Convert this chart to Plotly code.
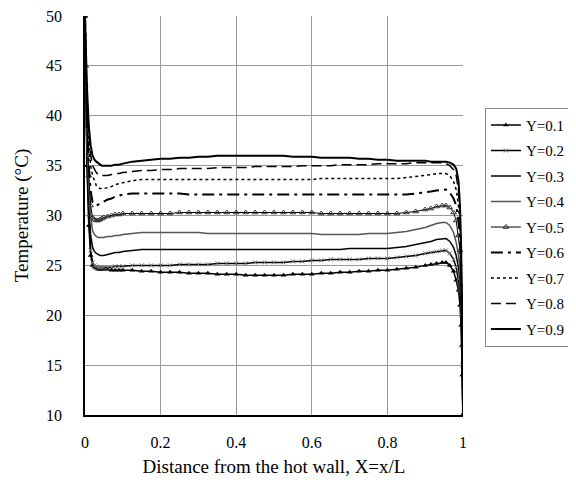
import plotly.graph_objects as go

# distance from the hot wall X=x/L
x_pos = [0, 0.002, 0.005, 0.01, 0.015, 0.02, 0.025, 0.03, 0.035, 0.04, 0.045,
         0.05, 0.06, 0.07, 0.08, 0.09,
         0.1, 0.125, 0.15, 0.175, 0.2, 0.225, 0.25, 0.275, 0.3, 0.325, 0.35,
         0.375, 0.4, 0.425, 0.45, 0.475, 0.5, 0.525, 0.55, 0.575, 0.6, 0.625,
         0.65, 0.675, 0.7, 0.725, 0.75, 0.775, 0.8, 0.825, 0.85, 0.875, 0.9,
         0.915, 0.93, 0.945, 0.955, 0.965, 0.975, 0.982, 0.988, 0.992, 0.995,
         0.998, 1.0]

# temperature (°C) for each height Y
t_y01 = [50, 43, 35, 29, 26, 25.0, 24.8, 24.7, 24.6, 24.6, 24.6, 24.6, 24.6, 24.5, 24.5, 24.5,
         24.5, 24.5, 24.4, 24.4, 24.3, 24.3, 24.3, 24.2, 24.2, 24.2, 24.1, 24.1, 24.1,
         24.0, 24.0, 24.0, 24.0, 24.0, 24.1, 24.1, 24.1, 24.2, 24.2, 24.3, 24.3, 24.4,
         24.4, 24.5, 24.5, 24.6, 24.7, 24.8, 25.0,
         25.1, 25.2, 25.3, 25.3, 25.0, 24.4, 23.5, 22.5, 21, 19, 14, 10]
t_y02 = [50, 43, 36, 30, 26.5, 25.3, 25.0, 24.9, 24.8, 24.8, 24.8, 24.8, 24.8, 24.8, 24.9, 24.9,
         24.9, 25.0, 25.0, 25.0, 25.0, 25.0, 25.1, 25.1, 25.1, 25.1, 25.2, 25.2, 25.2,
         25.2, 25.3, 25.3, 25.3, 25.3, 25.4, 25.4, 25.5, 25.5, 25.6, 25.6, 25.6, 25.6,
         25.7, 25.7, 25.7, 25.8, 25.9, 26.0, 26.2,
         26.3, 26.4, 26.5, 26.5, 26.2, 25.6, 24.8, 23.6, 22.5, 20, 15, 10]
t_y03 = [50, 44, 37, 31, 28, 26.8, 26.4, 26.2, 26.1, 26.0, 26.0, 26.0, 26.1, 26.2, 26.3, 26.3,
         26.4, 26.5, 26.6, 26.6, 26.6, 26.6, 26.6, 26.6, 26.6, 26.6, 26.6, 26.6, 26.6,
         26.6, 26.6, 26.6, 26.6, 26.6, 26.6, 26.6, 26.6, 26.6, 26.6, 26.6, 26.7, 26.7,
         26.7, 26.7, 26.7, 26.8, 26.9, 27.1, 27.3,
         27.4, 27.6, 27.7, 27.7, 27.4, 26.8, 26.0, 24.8, 23.5, 21, 15.5, 10]
t_y04 = [50, 44, 38, 33, 30, 28.5, 28.1, 27.9, 27.8, 27.8, 27.8, 27.8, 27.9, 27.9, 28.0, 28.0,
         28.1, 28.2, 28.3, 28.3, 28.3, 28.3, 28.3, 28.3, 28.3, 28.2, 28.2, 28.2, 28.2,
         28.2, 28.2, 28.2, 28.2, 28.2, 28.2, 28.2, 28.2, 28.1, 28.1, 28.1, 28.1, 28.1,
         28.2, 28.2, 28.2, 28.3, 28.4, 28.6, 28.8,
         29.0, 29.2, 29.3, 29.3, 29.0, 28.3, 27.3, 26.0, 24.5, 22, 16, 10]
t_y05 = [50, 45, 39, 34, 31, 29.8, 29.6, 29.5, 29.5, 29.6, 29.7, 29.8, 29.9, 30.0, 30.1, 30.1,
         30.2, 30.2, 30.2, 30.2, 30.2, 30.2, 30.3, 30.3, 30.3, 30.3, 30.3, 30.3, 30.3,
         30.3, 30.3, 30.3, 30.3, 30.3, 30.3, 30.3, 30.3, 30.2, 30.2, 30.2, 30.2, 30.2,
         30.2, 30.2, 30.2, 30.2, 30.3, 30.4, 30.6,
         30.7, 30.9, 31.0, 31.0, 30.8, 30.3, 29.5, 28.0, 26.5, 23, 17, 10]
t_y06 = [50, 45, 40, 35, 32.5, 31.3, 31.1, 31.0, 31.1, 31.2, 31.3, 31.4, 31.6, 31.7, 31.9, 32.0,
         32.1, 32.2, 32.2, 32.2, 32.2, 32.2, 32.2, 32.1, 32.1, 32.1, 32.1, 32.1, 32.1,
         32.1, 32.1, 32.1, 32.1, 32.1, 32.1, 32.1, 32.1, 32.1, 32.1, 32.1, 32.1, 32.1,
         32.1, 32.1, 32.1, 32.1, 32.1, 32.2, 32.3,
         32.4, 32.5, 32.6, 32.6, 32.3, 31.7, 31.0, 29.5, 27.5, 24, 17, 10]
t_y07 = [50, 46, 41, 37, 35, 34, 33.4, 33.0, 32.8, 32.7, 32.7, 32.7, 32.8, 32.9, 33.1, 33.2,
         33.3, 33.5, 33.6, 33.6, 33.6, 33.6, 33.6, 33.6, 33.6, 33.6, 33.6, 33.6, 33.6,
         33.6, 33.6, 33.6, 33.6, 33.6, 33.6, 33.6, 33.6, 33.7, 33.7, 33.7, 33.7, 33.7,
         33.7, 33.7, 33.7, 33.7, 33.8, 33.9, 34.0,
         34.1, 34.2, 34.2, 34.2, 34.0, 33.4, 32.6, 31.0, 29.0, 25, 18, 10]
t_y08 = [50, 46.5, 42, 38, 36, 35, 34.6, 34.3, 34.1, 34.0, 34.0, 34.0, 34.0, 34.1, 34.2, 34.2,
         34.3, 34.4, 34.5, 34.5, 34.6, 34.6, 34.7, 34.7, 34.7, 34.7, 34.8, 34.8, 34.8,
         34.8, 34.9, 34.9, 34.9, 34.9, 34.9, 35.0, 35.0, 35.0, 35.0, 35.1, 35.1, 35.1,
         35.1, 35.2, 35.2, 35.2, 35.2, 35.3, 35.3,
         35.3, 35.3, 35.3, 35.2, 35.0, 34.6, 34.0, 32.5, 30.0, 26, 19, 10]
t_y09 = [50, 47, 43, 39, 37, 36, 35.6, 35.4, 35.2, 35.1, 35.0, 35.0, 35.0, 35.0, 35.1, 35.1,
         35.2, 35.4, 35.5, 35.6, 35.7, 35.7, 35.8, 35.8, 35.9, 35.9, 36.0, 36.0, 36.0,
         36.0, 36.0, 36.0, 36.0, 36.0, 35.9, 35.9, 35.9, 35.8, 35.8, 35.8, 35.8, 35.7,
         35.7, 35.6, 35.6, 35.5, 35.5, 35.5, 35.5,
         35.4, 35.4, 35.4, 35.4, 35.3, 35.1, 34.7, 33.5, 31.0, 27, 20, 10]

series_names = ["Y=0.1", "Y=0.2", "Y=0.3", "Y=0.4", "Y=0.5",
                "Y=0.6", "Y=0.7", "Y=0.8", "Y=0.9"]
series_values = [t_y01, t_y02, t_y03, t_y04, t_y05, t_y06, t_y07, t_y08, t_y09]

x_ticks = [0, 0.2, 0.4, 0.6, 0.8, 1]
x_ticklabels = ["0", "0.2", "0.4", "0.6", "0.8", "1"]
y_ticks = [10, 15, 20, 25, 30, 35, 40, 45, 50]

FONT = "Liberation Serif, Times New Roman, serif"

# line style per series
styles = [
    dict(mode="lines+markers", line=dict(color="black", width=1.5),
         marker=dict(symbol="triangle-up", size=5, color="black")),
    dict(mode="lines+markers", line=dict(color="black", width=1.5),
         marker=dict(symbol="x-thin-open", size=4, color="#777",
                     line=dict(width=1, color="#777"))),
    dict(mode="lines", line=dict(color="black", width=1.5)),
    dict(mode="lines", line=dict(color="#555", width=1.5)),
    dict(mode="lines+markers", line=dict(color="black", width=1),
         marker=dict(symbol="triangle-up-open", size=5, color="#333",
                     line=dict(width=1, color="#333"))),
    dict(mode="lines", line=dict(color="black", width=2, dash="12px,5px,3px,5px")),
    dict(mode="lines", line=dict(color="black", width=1.5, dash="3px,3px")),
    dict(mode="lines", line=dict(color="black", width=1.5, dash="10px,5px")),
    dict(mode="lines", line=dict(color="black", width=2)),
]

fig = go.Figure()

for name, vals, st in zip(series_names, series_values, styles):
    fig.add_trace(go.Scatter(x=x_pos, y=vals, name=name, legendgroup=name, **st))

# page body has an 8px margin, so the figure is drawn 8px in from the corner
fig.update_layout(
    width=568, height=480,
    margin=dict(l=77, r=113, t=8, b=73, autoexpand=False),
    paper_bgcolor="white", plot_bgcolor="white",
    font=dict(family=FONT, size=16, color="black"),
    showlegend=True,
    legend=dict(
        x=1.058, y=0.77, xanchor="left", yanchor="top",
        bordercolor="#888", borderwidth=1, bgcolor="white",
        font=dict(family=FONT, size=15, color="black"),
        tracegroupgap=3, itemwidth=30,
    ),
)

fig.update_xaxes(
    range=[0, 1], tickvals=x_ticks, ticktext=x_ticklabels,
    showgrid=True, gridcolor="#999", gridwidth=1,
    showline=True, linecolor="black", linewidth=1.5,
    zeroline=False, ticks="", ticklabelstandoff=12, automargin=False,
    ticklabeloverflow="allow", tickfont=dict(size=16),
    title=dict(text="Distance from the hot wall, X=x/L", standoff=10),
)
fig.update_yaxes(
    range=[10, 50], tickvals=y_ticks,
    showgrid=True, gridcolor="#999", gridwidth=1,
    showline=True, linecolor="black", linewidth=1.5,
    zeroline=False, ticks="", ticklabelstandoff=18, automargin=False,
    ticklabeloverflow="allow", tickfont=dict(size=16),
    title=dict(text="Temperature (°C)", standoff=12),
)

fig.write_html("out.html")
